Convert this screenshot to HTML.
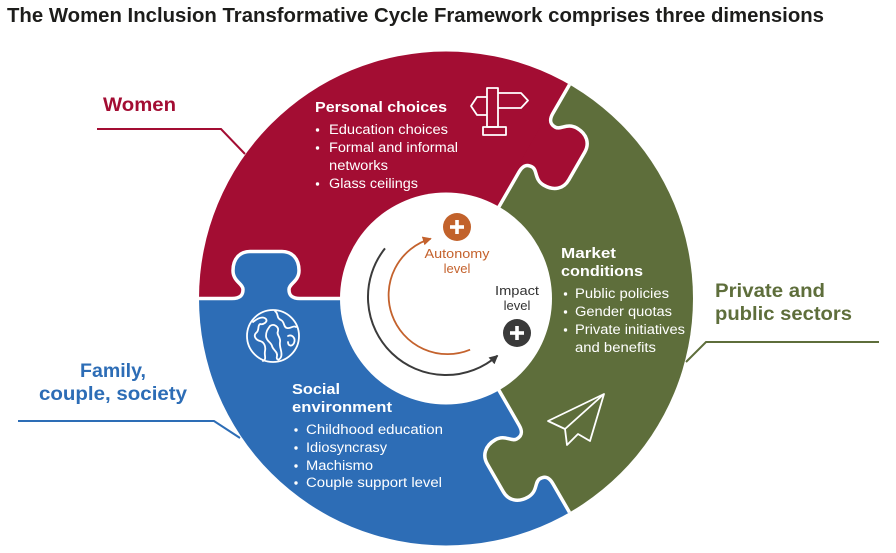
<!DOCTYPE html>
<html><head><meta charset="utf-8">
<style>
html,body{margin:0;padding:0;background:#fff;}
svg{display:block;}
text{font-family:"Liberation Sans",Arial,sans-serif;}
</style></head>
<body>
<svg width="896" height="553" viewBox="0 0 896 553" xmlns="http://www.w3.org/2000/svg">
<defs>
<clipPath id="cc"><circle cx="446" cy="298.5" r="247"/></clipPath>
<marker id="ao" markerUnits="userSpaceOnUse" markerWidth="12" markerHeight="12" refX="8" refY="4.5" orient="auto"><path d="M0,0 L9,4.5 L0,9 Z" fill="#C4622D"/></marker>
<marker id="ad" markerUnits="userSpaceOnUse" markerWidth="12" markerHeight="12" refX="8" refY="4.5" orient="auto"><path d="M0,0 L9,4.5 L0,9 Z" fill="#3b3b3b"/></marker>
</defs>

<!-- Title -->
<text x="7" y="22" font-size="20" font-weight="bold" fill="#1d1d1b" textLength="817" lengthAdjust="spacingAndGlyphs">The Women Inclusion Transformative Cycle Framework comprises three dimensions</text>

<!-- Ring -->
<g clip-path="url(#cc)">
  <path d="M446,298.5 L186,298.5 A260,260 0 0 1 576,73.3 Z" fill="#A30D33"/>
  <path d="M446,298.5 L576,73.3 A260,260 0 0 1 576,523.7 Z" fill="#5E6E3B"/>
  <path d="M446,298.5 L576,523.7 A260,260 0 0 1 186,298.5 Z" fill="#2D6DB6"/>

  <!-- red tab into green -->
  <g transform="translate(446,298.5) rotate(-60)">
    <path d="M146,-4 L146,0 C154,0 157,3 157,9 C157,15 147,17 147,28 C147,40 154,47 164,47 L196,47 C206,47 213,40 213,28 C213,17 203,15 203,9 C203,3 206,0 214,0 L214,-4 Z" fill="#A30D33"/>
    <path d="M100,0 L146,0 C154,0 157,3 157,9 C157,15 147,17 147,28 C147,40 154,47 164,47 L196,47 C206,47 213,40 213,28 C213,17 203,15 203,9 C203,3 206,0 214,0 L260,0" fill="none" stroke="#fff" stroke-width="3.5" stroke-linejoin="round"/>
  </g>
  <!-- blue tab into red -->
  <g transform="translate(446,298.5) rotate(180)">
    <path d="M146,-4 L146,0 C154,0 157,3 157,9 C157,15 147,17 147,28 C147,40 154,47 164,47 L196,47 C206,47 213,40 213,28 C213,17 203,15 203,9 C203,3 206,0 214,0 L214,-4 Z" fill="#2D6DB6"/>
    <path d="M100,0 L146,0 C154,0 157,3 157,9 C157,15 147,17 147,28 C147,40 154,47 164,47 L196,47 C206,47 213,40 213,28 C213,17 203,15 203,9 C203,3 206,0 214,0 L260,0" fill="none" stroke="#fff" stroke-width="3.5" stroke-linejoin="round"/>
  </g>
  <!-- green tab into blue -->
  <g transform="translate(446,298.5) rotate(60)">
    <path d="M146,-4 L146,0 C154,0 157,3 157,9 C157,15 147,17 147,28 C147,40 154,47 164,47 L196,47 C206,47 213,40 213,28 C213,17 203,15 203,9 C203,3 206,0 214,0 L214,-4 Z" fill="#5E6E3B"/>
    <path d="M100,0 L146,0 C154,0 157,3 157,9 C157,15 147,17 147,28 C147,40 154,47 164,47 L196,47 C206,47 213,40 213,28 C213,17 203,15 203,9 C203,3 206,0 214,0 L260,0" fill="none" stroke="#fff" stroke-width="3.5" stroke-linejoin="round"/>
  </g>
</g>
<circle cx="446" cy="298.5" r="106" fill="#fff"/>

<!-- Center arrows -->
<path d="M470.1,349.7 A59,59 0 1 1 430.8,238.6" fill="none" stroke="#C4622D" stroke-width="1.8" marker-end="url(#ao)"/>
<path d="M385,248.4 A78,78 0 0 0 497.5,355.6" fill="none" stroke="#3b3b3b" stroke-width="2" marker-end="url(#ad)"/>

<circle cx="457" cy="227" r="14" fill="#C2622B"/>
<rect x="450" y="225.2" width="14" height="3.6" fill="#fff"/>
<rect x="455.2" y="220" width="3.6" height="14" fill="#fff"/>

<circle cx="517" cy="333" r="14" fill="#3a3a3a"/>
<rect x="510" y="331.2" width="14" height="3.6" fill="#fff"/>
<rect x="515.2" y="326" width="3.6" height="14" fill="#fff"/>

<text x="457" y="258" font-size="13" fill="#C4622D" text-anchor="middle" textLength="65" lengthAdjust="spacingAndGlyphs">Autonomy</text>
<text x="457" y="273" font-size="13" fill="#C4622D" text-anchor="middle">level</text>
<text x="517" y="295" font-size="13" fill="#333" text-anchor="middle" textLength="44" lengthAdjust="spacingAndGlyphs">Impact</text>
<text x="517" y="310" font-size="13" fill="#333" text-anchor="middle">level</text>

<!-- Personal choices -->
<g fill="#fff">
<text x="315" y="112" font-size="14.5" font-weight="bold" textLength="132" lengthAdjust="spacingAndGlyphs">Personal choices</text>
<circle cx="317.5" cy="130" r="1.7"/><circle cx="317.5" cy="148" r="1.7"/><circle cx="317.5" cy="184" r="1.7"/>
<text x="329" y="134" font-size="13.5" textLength="119" lengthAdjust="spacingAndGlyphs">Education choices</text>
<text x="329" y="152" font-size="13.5" textLength="129" lengthAdjust="spacingAndGlyphs">Formal and informal</text>
<text x="329" y="170" font-size="13.5" textLength="59" lengthAdjust="spacingAndGlyphs">networks</text>
<text x="329" y="188" font-size="13.5" textLength="89" lengthAdjust="spacingAndGlyphs">Glass ceilings</text>

<!-- Market conditions -->
<text x="561" y="258" font-size="14.5" font-weight="bold" textLength="55" lengthAdjust="spacingAndGlyphs">Market</text>
<text x="561" y="276" font-size="14.5" font-weight="bold" textLength="82" lengthAdjust="spacingAndGlyphs">conditions</text>
<circle cx="565.5" cy="294" r="1.7"/><circle cx="565.5" cy="312" r="1.7"/><circle cx="565.5" cy="330" r="1.7"/>
<text x="575" y="298" font-size="13.5" textLength="94" lengthAdjust="spacingAndGlyphs">Public policies</text>
<text x="575" y="316" font-size="13.5" textLength="97" lengthAdjust="spacingAndGlyphs">Gender quotas</text>
<text x="575" y="334" font-size="13.5" textLength="110" lengthAdjust="spacingAndGlyphs">Private initiatives</text>
<text x="575" y="352" font-size="13.5" textLength="81" lengthAdjust="spacingAndGlyphs">and benefits</text>

<!-- Social environment -->
<text x="292" y="394" font-size="14.5" font-weight="bold" textLength="48" lengthAdjust="spacingAndGlyphs">Social</text>
<text x="292" y="412" font-size="14.5" font-weight="bold" textLength="100" lengthAdjust="spacingAndGlyphs">environment</text>
<circle cx="296" cy="430" r="1.7"/><circle cx="296" cy="448" r="1.7"/><circle cx="296" cy="466" r="1.7"/><circle cx="296" cy="483" r="1.7"/>
<text x="306" y="434" font-size="13.5" textLength="137" lengthAdjust="spacingAndGlyphs">Childhood education</text>
<text x="306" y="452" font-size="13.5" textLength="81" lengthAdjust="spacingAndGlyphs">Idiosyncrasy</text>
<text x="306" y="470" font-size="13.5" textLength="67" lengthAdjust="spacingAndGlyphs">Machismo</text>
<text x="306" y="487" font-size="13.5" textLength="136" lengthAdjust="spacingAndGlyphs">Couple support level</text>
</g>

<!-- Signpost icon -->
<g fill="none" stroke="#fff" stroke-width="1.8" stroke-linejoin="round">
  <rect x="487" y="88" width="11" height="39"/>
  <rect x="483" y="127" width="23" height="8"/>
  <path d="M487,97 L477,97 L471,106 L477,115 L487,115"/>
  <path d="M498,93 L521,93 L528,100.5 L521,108 L498,108"/>
</g>

<!-- Globe icon -->
<g fill="none" stroke="#fff" stroke-width="1.8" stroke-linejoin="round" stroke-linecap="round">
  <circle cx="273" cy="336" r="26"/>
  <path d="M253,322 C258,318 263,316 266,319 C268,322 263,325 260,324 C257,326 260,330 256,333 C253,336 256,340 260,341 C264,342 266,346 265,351 C264,356 267,359 263,361"/>
  <path d="M275,311 C279,314 276,318 281,320 C285,322 283,327 287,328 C291,329 293,325 296,327"/>
  <path d="M270,326 C274,323 279,327 278,331 C276,335 281,337 280,342 C279,348 283,352 281,357 C279,361 276,360 277,356 C278,352 273,350 272,346 C271,342 266,341 266,336 C266,331 268,329 270,326 Z"/>
  <path d="M288,336 C292,334 296,338 294,343 C292,347 288,346 288,342"/>
</g>

<!-- Paper plane icon -->
<g fill="none" stroke="#fff" stroke-width="1.8" stroke-linejoin="round">
  <path d="M604,394 L548,421 L565,429 L567,445 L578,434 L590,441 Z"/>
  <path d="M604,394 L565,429"/>
</g>

<!-- Outer labels and leader lines -->
<text x="103" y="111" font-size="19" font-weight="bold" fill="#A30D33" textLength="73" lengthAdjust="spacingAndGlyphs">Women</text>
<polyline points="97,129 221,129 245,154" fill="none" stroke="#A30D33" stroke-width="2"/>

<text x="80" y="377" font-size="19" font-weight="bold" fill="#2D6DB6" textLength="66" lengthAdjust="spacingAndGlyphs">Family,</text>
<text x="39" y="400" font-size="19" font-weight="bold" fill="#2D6DB6" textLength="148" lengthAdjust="spacingAndGlyphs">couple, society</text>
<polyline points="18,421 214,421 240,438" fill="none" stroke="#2D6DB6" stroke-width="2"/>

<text x="715" y="297" font-size="19" font-weight="bold" fill="#5E6E3B" textLength="110" lengthAdjust="spacingAndGlyphs">Private and</text>
<text x="715" y="320" font-size="19" font-weight="bold" fill="#5E6E3B" textLength="137" lengthAdjust="spacingAndGlyphs">public sectors</text>
<polyline points="879,342 706,342 686,362" fill="none" stroke="#5E6E3B" stroke-width="2"/>
</svg>
</body></html>
